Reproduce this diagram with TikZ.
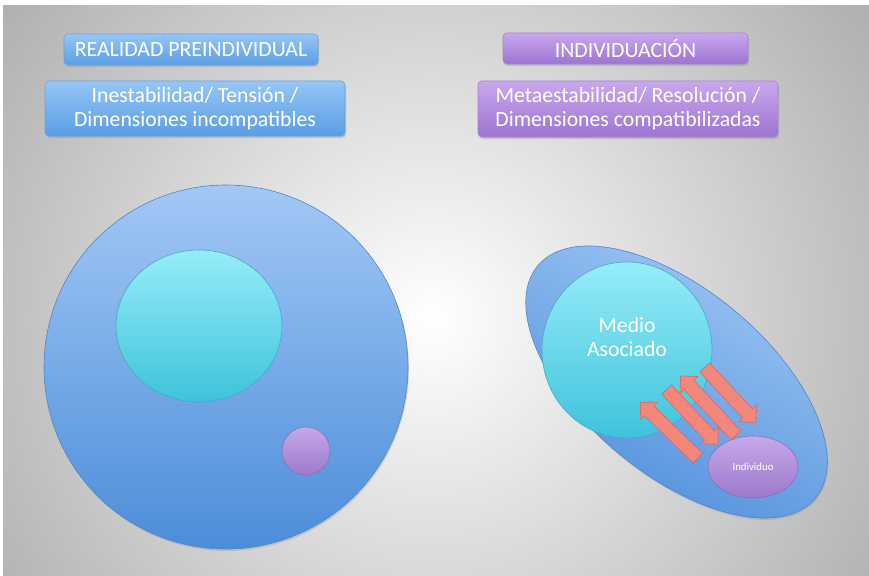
\documentclass[tikz,border=0pt]{standalone}
\usepackage{fontspec}
\setmainfont{Carlito}
\usetikzlibrary{shapes.geometric,shapes.arrows,shadows}
\definecolor{boxbluetop}{HTML}{96C6F6}
\definecolor{boxbluebot}{HTML}{5A9DE4}
\definecolor{boxblueline}{HTML}{6AA2DA}
\definecolor{boxpurtop}{HTML}{C9A8EE}
\definecolor{boxpurbot}{HTML}{9C74D2}
\definecolor{boxpurline}{HTML}{A485CE}
\definecolor{bigtop}{HTML}{A2C8F6}
\definecolor{bigbot}{HTML}{4C8DD9}
\definecolor{bigline}{HTML}{4F86C8}
\definecolor{cyantop}{HTML}{96ECF9}
\definecolor{cyanbot}{HTML}{3EC3DB}
\definecolor{cyanline}{HTML}{45A9C6}
\definecolor{smalltop}{HTML}{C7A8EA}
\definecolor{smallbot}{HTML}{9B7ACC}
\definecolor{smallline}{HTML}{8C6CC0}
\definecolor{arrfill}{HTML}{F3877C}
\definecolor{arrline}{HTML}{D9685E}
\definecolor{bggray}{HTML}{A6A6A6}
\tikzset{
  bluebox/.style={rounded corners=4pt, top color=boxbluetop, bottom color=boxbluebot,
    draw=boxblueline, line width=0.6pt, text=white, align=center, inner sep=0pt,
    drop shadow={opacity=0.3, shadow xshift=1pt, shadow yshift=-2pt}},
  purbox/.style={rounded corners=4pt, top color=boxpurtop, bottom color=boxpurbot,
    draw=boxpurline, line width=0.6pt, text=white, align=center, inner sep=0pt,
    drop shadow={opacity=0.3, shadow xshift=1pt, shadow yshift=-2pt}},
  titlefont/.style={font=\fontsize{21.8}{25}\selectfont},
  bodyfont/.style={font=\fontsize{21.7}{24}\selectfont},
  bigcircle/.style={ellipse, top color=bigtop, bottom color=bigbot, draw=bigline, line width=0.6pt,
    drop shadow={opacity=0.25, shadow xshift=1pt, shadow yshift=-2pt}},
  cyanshape/.style={ellipse, top color=cyantop, bottom color=cyanbot, draw=cyanline, line width=0.6pt,
    text=white, align=center, inner sep=0pt},
  purshape/.style={ellipse, top color=smalltop, bottom color=smallbot, draw=smallline, line width=0.6pt,
    text=white, align=center, inner sep=0pt},
  blockarrow/.style={single arrow, fill=arrfill, draw=arrline, line width=0.6pt,
    inner xsep=0pt, inner ysep=6.4pt, single arrow head extend=5.5pt, single arrow head indent=0pt,
    minimum height=78pt},
}
\begin{document}
\begin{tikzpicture}[x=1pt,y=-1pt]
\useasboundingbox (0,0) rectangle (869,575);
% background
\fill[white] (0,0) rectangle (869,575);
\begin{scope}
\clip (3,6) rectangle (869,575);
\shade[inner color=white, outer color=bggray] (432,318) circle (600);
\end{scope}
% header boxes
\node[bluebox, titlefont, minimum width=254pt, minimum height=31pt] (t1) at (191,49.5) {REALIDAD PREINDIVIDUAL};
\node[bluebox, bodyfont, minimum width=300pt, minimum height=55pt] (b1) at (195,108.5) {Inestabilidad/ Tensión /\\Dimensiones incompatibles};
\node[purbox, titlefont, minimum width=245pt, minimum height=31pt] (t2) at (625.5,48.5) {INDIVIDUACIÓN};
\node[purbox, bodyfont, minimum width=300pt, minimum height=56pt] (b2) at (628,109) {Metaestabilidad/ Resolución /\\Dimensiones compatibilizadas};
% left diagram
\node[bigcircle, minimum width=364pt, minimum height=364pt] (big) at (226,367) {};
\node[cyanshape, minimum width=166pt, minimum height=152pt] (inner) at (199,326) {};
\node[purshape, minimum width=48pt, minimum height=48pt] (small) at (306,451) {};
% right diagram
\node[bigcircle, minimum width=362pt, minimum height=184pt, rotate=-40, shading angle=-25] (ell) at (676.5,382) {};
\node[cyanshape, minimum width=170pt, minimum height=176pt] (medio) at (627,350) {};
\node[bodyfont, text=white, align=center, inner sep=0pt] (mediotext) at ([yshift=13pt]medio.center) {Medio\\Asociado};
\node[purshape, font=\fontsize{10.8}{12}\selectfont, minimum width=90pt, minimum height=62pt] (indiv) at (753,467) {Individuo};
% arrows between Medio Asociado and Individuo
\node[blockarrow, rotate=136, minimum height=80pt] (a1) at (671.5,432.5) {};
\node[blockarrow, rotate=-47, minimum height=75pt] (a2) at (690,414.5) {};
\node[blockarrow, rotate=133, minimum height=81pt] (a3) at (710.5,408) {};
\node[blockarrow, rotate=-47, minimum height=75pt] (a4) at (728,392.5) {};
\end{tikzpicture}
\end{document}
